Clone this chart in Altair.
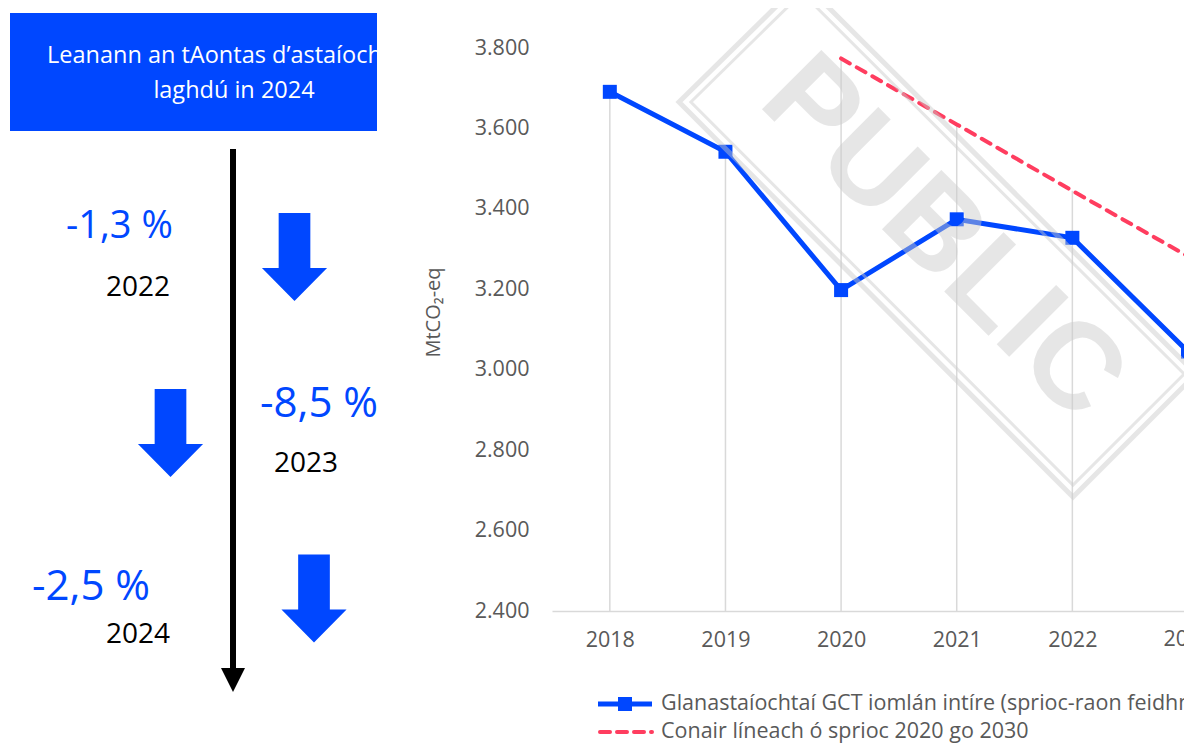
import altair as alt
import pandas as pd

# ---------------- data ----------------
years = [2018, 2019, 2020, 2021, 2022, 2023]
net_emissions = [3691, 3542, 3198, 3374, 3328, 3045]          # blue series (MtCO2-eq)
path_years = [2020, 2021, 2022, 2023]
linear_path = [3774, 3610, 3445, 3282]                         # red dashed series
series_names = [
    "Glanastaíochtaí GCT iomlán intíre (sprioc-raon feidhme)",
    "Conair líneach ó sprioc 2020 go 2030",
]
y_ticks = [2400, 2600, 2800, 3000, 3200, 3400, 3600, 3800]
box_lines = ["Leanann an tAontas d’astaíocht", "laghdú in 2024"]
change_pct = ["-1,3 %", "-8,5 %", "-2,5 %"]
change_years = ["2022", "2023", "2024"]
watermark = "PUBLIC"

BLUE = "#0047FF"
RED = "#FF3D5F"
GREY_TXT = "#595959"
GRID = "#D9D9D9"
FONT = "Open Sans"
AX_FS = 21.5
LBL_PAD = 18

df_main = pd.DataFrame({"year": years, "value": net_emissions})
df_path = pd.DataFrame({"year": path_years, "value": linear_path})
tops = {}
for y, v in zip(years, net_emissions):
    tops[y] = max(tops.get(y, v), v)
for y, v in zip(path_years, linear_path):
    tops[y] = max(tops.get(y, v), v)
df_drop = pd.DataFrame({"year": list(tops.keys()), "top": list(tops.values())})
df_drop["base"] = y_ticks[0]

# plot area is cut at the right edge just before the 2023 category centre
PLOT_W = 632
PLOT_H = 563
STEP = 636 / 5.5
x_max = 2017.5 + PLOT_W / STEP
x_scale = alt.Scale(domain=[2017.5, x_max], nice=False, zero=False)
y_scale = alt.Scale(domain=[y_ticks[0], y_ticks[-1]], nice=False, zero=False)

inside_years = [y for y in years if y <= x_max]
edge_years = pd.DataFrame({"year": [y for y in years if y > x_max]})
edge_years["label"] = edge_years["year"].astype(str)

x_axis = alt.Axis(values=inside_years, format="d", ticks=False, tickSize=0, grid=False,
                  domainColor=GRID, domainWidth=1.5, labelFontSize=AX_FS, labelFont=FONT,
                  labelColor=GREY_TXT, labelPadding=LBL_PAD, title=None, labelBound=False,
                  labelOverlap=False, labelFlush=False, labelBaseline="top")
y_axis = alt.Axis(values=y_ticks, ticks=False, tickSize=0, grid=False, domain=False,
                  labelExpr="replace(format(datum.value, ','), ',', '.')",
                  labelFontSize=AX_FS, labelFont=FONT, labelColor=GREY_TXT, labelPadding=23,
                  title="MtCO₂-eq", titleFont=FONT, titleFontSize=20, titleFontWeight="normal",
                  titleColor=GREY_TXT, titleX=-119, titleY=264, titleAngle=-90,
                  titleAlign="center", titleBaseline="middle")

drop = alt.Chart(df_drop).mark_rule(color=GRID, strokeWidth=1.5).encode(
    x=alt.X("year:Q", scale=x_scale, axis=x_axis),
    y=alt.Y("base:Q", scale=y_scale, axis=y_axis),
    y2=alt.Y2("top:Q"),
)
edge_label = alt.Chart(edge_years).mark_text(
    baseline="top", align="center", fontSize=AX_FS, font=FONT, color=GREY_TXT
).encode(
    x=alt.X("year:Q", scale=x_scale),
    y=alt.value(PLOT_H + LBL_PAD),
    text="label:N",
)
red_line = alt.Chart(df_path).mark_line(color=RED, strokeWidth=4, strokeDash=[10, 8],
                                        strokeCap="round").encode(
    x=alt.X("year:Q", scale=x_scale),
    y=alt.Y("value:Q", scale=y_scale),
)
blue_line = alt.Chart(df_main).mark_line(color=BLUE, strokeWidth=5).encode(
    x=alt.X("year:Q", scale=x_scale),
    y=alt.Y("value:Q", scale=y_scale),
)
blue_pts = alt.Chart(df_main).mark_point(shape="square", filled=True, size=196,
                                         color=BLUE, opacity=1).encode(
    x=alt.X("year:Q", scale=x_scale),
    y=alt.Y("value:Q", scale=y_scale),
)

one = alt.Data(values=[{"k": 1}])


def text(t, x, y, **kw):
    return alt.Chart(one).mark_text(text=t, **kw).encode(x=alt.value(x), y=alt.value(y))


def symbol(shape, x, y, size, color, filled=True, **kw):
    if filled:
        return alt.Chart(one).mark_point(shape=shape, size=size, filled=True, fill=color,
                                         opacity=1, strokeWidth=0, **kw).encode(
            x=alt.value(x), y=alt.value(y))
    return alt.Chart(one).mark_point(shape=shape, size=size, filled=False, stroke=color,
                                     **kw).encode(x=alt.value(x), y=alt.value(y))


# ---------------- watermark ----------------
wm_color = "#CACACA"
wm_op = 0.45
outer_path = "M-1,-0.53 L-0.524,-0.998 L1,0.522 L0.524,0.998 Z"
inner_path = "M-0.954,-0.53 L-0.524,-0.952 L0.954,0.522 L0.524,0.952 Z"
wm_layers = [
    text(watermark, 391, 190, angle=45, font="Liberation Sans", fontWeight="bold",
         fontSize=122, align="center", baseline="middle", color=wm_color, opacity=wm_op),
    symbol(outer_path, 385.5, 191, 517 * 517, wm_color, filled=False,
           strokeWidth=5, opacity=wm_op, strokeJoin="miter"),
    symbol(inner_path, 385.5, 191, 517 * 517, wm_color, filled=False,
           strokeWidth=3, opacity=wm_op, strokeJoin="miter"),
]

# ---------------- manual legend ----------------
legend_layers = [
    alt.Chart(one).mark_rule(color=BLUE, strokeWidth=5).encode(
        x=alt.value(46), x2=alt.value(100), y=alt.value(656)),
    symbol("square", 73, 656, 196, BLUE),
    text(series_names[0], 109, 656, align="left", baseline="middle", fontSize=AX_FS,
         font=FONT, color=GREY_TXT),
    alt.Chart(one).mark_rule(color=RED, strokeWidth=4, strokeDash=[10, 7],
                             strokeCap="round").encode(
        x=alt.value(48), x2=alt.value(100), y=alt.value(684)),
    text(series_names[1], 109, 684, align="left", baseline="middle", fontSize=AX_FS,
         font=FONT, color=GREY_TXT),
]

# ---------------- left infographic ----------------
arrow_path = "M-0.36,-1 L0.36,-1 L0.36,0.25 L0.74,0.25 L0,1 L-0.74,0.25 L-0.36,0.25 Z"
head_path = "M-1,-1 L1,-1 L0,1 Z"
left_layers = [
    alt.Chart(one).mark_rect(color=BLUE).encode(
        x=alt.value(-542), x2=alt.value(-175), y=alt.value(-35), y2=alt.value(83)),
    text(box_lines[0], -505, 15, align="left", baseline="alphabetic", fontSize=23.5,
         font=FONT, color="white", limit=346, ellipsis=" "),
    text(box_lines[1], -318, 50, align="center", baseline="alphabetic", fontSize=23.5,
         font=FONT, color="white"),
    alt.Chart(one).mark_rule(color="black", strokeWidth=6).encode(
        x=alt.value(-319), y=alt.value(101), y2=alt.value(624)),
    symbol(head_path, -319, 632, 576, "black"),
    symbol(arrow_path, -257.5, 209, 7744, BLUE),
    symbol(arrow_path, -381.5, 385, 7744, BLUE),
    symbol(arrow_path, -238, 550.5, 7744, BLUE),
]
pct_pos = [(-486, 190), (-292, 369), (-520, 552)]
pct_size = [38, 42, 42]
yr_pos = [(-446, 248), (-278, 424), (-446, 595)]
for t, (x, y), s in zip(change_pct, pct_pos, pct_size):
    left_layers.append(text(t, x, y, align="left", baseline="alphabetic", fontSize=s,
                            font=FONT, color=BLUE))
for t, (x, y) in zip(change_years, yr_pos):
    left_layers.append(text(t, x, y, align="left", baseline="alphabetic", fontSize=28,
                            font=FONT, color="black"))

chart = alt.layer(
    drop, edge_label, red_line, blue_line, blue_pts, *wm_layers, *legend_layers, *left_layers
).properties(
    width=PLOT_W, height=PLOT_H,
    autosize=alt.AutoSizeParams(type="none"),
    padding={"left": 544, "top": 40, "right": 0, "bottom": 134},
).configure_view(stroke=None)

chart.save("out.html", embed_options={"renderer": "svg", "actions": False})
